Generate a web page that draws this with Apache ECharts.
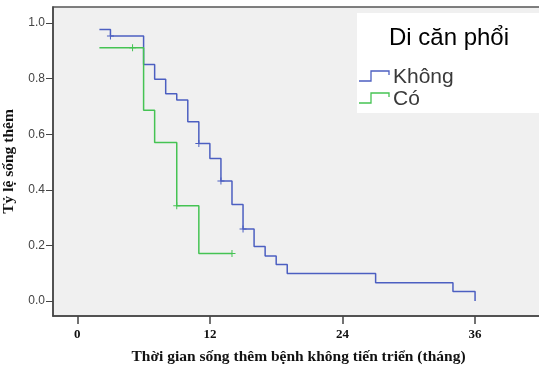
<!DOCTYPE html>
<html>
<head>
<meta charset="utf-8">
<script src="https://cdn.jsdelivr.net/npm/echarts@6/dist/echarts.min.js"></script>
<style>
  html, body { margin: 0; padding: 0; background: #ffffff; }
  #chart { width: 539px; height: 366px; }
</style>
</head>
<body>
<div id="chart"></div>
<script>
// Kaplan-Meier estimates of progression-free survival by lung metastasis
const groupNames = ['Không', 'Có'];

// "Không" (no lung metastasis): event times (months) and survival after each step
const khongTimes = [2, 3, 6, 7, 8, 9, 10, 11, 12, 13, 14, 15, 16, 17, 18, 19, 27, 34, 36];
const khongSurv  = [0.977, 0.954, 0.851, 0.798, 0.746, 0.723, 0.645, 0.567, 0.513, 0.432,
                    0.347, 0.259, 0.196, 0.162, 0.131, 0.099, 0.066, 0.034, 0.0];
// censored observations
const khongCensorTimes = [3, 11, 13, 15];
const khongCensorSurv  = [0.954, 0.567, 0.432, 0.259];

// "Có" (lung metastasis)
const coTimes = [2, 6, 7, 9, 11, 14];
const coSurv  = [0.911, 0.686, 0.570, 0.343, 0.171, 0.171];
const coCensorTimes = [5, 9, 14];
const coCensorSurv  = [0.911, 0.343, 0.171];

const xTicks = [0, 12, 24, 36];
const yTicks = [0, 0.2, 0.4, 0.6, 0.8, 1.0];

const legendTitle = 'Di căn phổi';
const xTitle = 'Thời gian sống thêm bệnh không tiến triển (tháng)';
const yTitle = 'Tỷ lệ sống thêm';

const colors = ['#4c5fc1', '#45c353'];

const pairs = (xs, ys) => xs.map((x, i) => [x, ys[i]]);

// censor mark "+"
const plusSymbol = 'path://M3,0 L4,0 L4,7 L3,7 Z M0,3 L7,3 L7,4 L0,4 Z';

const sansFont = 'Liberation Sans, Arial, sans-serif';
const serifFont = 'Liberation Serif, Times New Roman, serif';

// legend box: title, then one step-shaped glyph + label per group
const legendBox = { x: 357, y: 13, w: 182, h: 100 };
const legendRows = [77, 99];
const legendGraphics = [
  {
    type: 'rect',
    shape: { x: legendBox.x, y: legendBox.y, width: legendBox.w, height: legendBox.h },
    style: { fill: '#ffffff' },
    z: 8
  },
  {
    type: 'text',
    x: 449, y: 38,
    style: {
      text: legendTitle, font: '24px ' + sansFont, fill: '#000000',
      align: 'center', verticalAlign: 'middle'
    },
    z: 9
  }
];
groupNames.forEach((name, i) => {
  const cy = legendRows[i];
  legendGraphics.push({
    type: 'polyline',
    shape: { points: [[359, cy + 4], [371, cy + 4], [371, cy - 6], [389, cy - 6], [389, cy - 2]] },
    style: { stroke: colors[i], lineWidth: 1.3, fill: null },
    z: 9
  });
  legendGraphics.push({
    type: 'text',
    x: 393, y: cy,
    style: {
      text: name, font: '21px ' + sansFont, fill: '#3a3a3a',
      align: 'left', verticalAlign: 'middle'
    },
    z: 9
  });
});

const chart = echarts.init(document.getElementById('chart'), null, { renderer: 'canvas' });

chart.setOption({
  animation: false,
  backgroundColor: '#ffffff',
  grid: {
    left: 53, top: 7, width: 491, height: 309,
    outerBoundsMode: 'none',
    containLabel: false,
    show: true,
    backgroundColor: '#f0f0f0',
    borderColor: '#555555',
    borderWidth: 1.5
  },
  graphic: legendGraphics,
  xAxis: {
    type: 'value',
    min: -2.2, max: 42.24,
    name: xTitle,
    nameLocation: 'middle',
    nameGap: 33,
    nameTextStyle: { fontFamily: serifFont, fontWeight: 'bold', fontSize: 15.5, color: '#111111' },
    axisLine: { show: true, onZero: false, lineStyle: { color: '#444444', width: 1.5 } },
    axisTick: { show: true, customValues: xTicks, length: 8, lineStyle: { color: '#444444', width: 1.5 } },
    axisLabel: {
      customValues: xTicks, margin: 12,
      fontFamily: serifFont, fontWeight: 'bold', fontSize: 13, color: '#111111'
    },
    splitLine: { show: false }
  },
  yAxis: {
    type: 'value',
    min: -0.054, max: 1.058,
    name: yTitle,
    nameLocation: 'middle',
    nameGap: 31,
    nameTextStyle: { fontFamily: serifFont, fontWeight: 'bold', fontSize: 15.5, color: '#111111' },
    axisLine: { show: true, onZero: false, lineStyle: { color: '#444444', width: 1.5 } },
    axisTick: { show: true, customValues: yTicks, length: 7, lineStyle: { color: '#444444', width: 1 } },
    axisLabel: {
      customValues: yTicks, margin: 8,
      formatter: v => v.toFixed(1),
      fontFamily: 'Liberation Sans Narrow, Liberation Sans, Arial, sans-serif', fontSize: 12, color: '#444444'
    },
    splitLine: { show: false }
  },
  series: [
    {
      name: groupNames[0], type: 'line', step: 'end', symbol: 'none',
      lineStyle: { color: colors[0], width: 1.5 }, itemStyle: { color: colors[0] },
      data: pairs(khongTimes, khongSurv), z: 3
    },
    {
      name: groupNames[1], type: 'line', step: 'end', symbol: 'none',
      lineStyle: { color: colors[1], width: 1.5 }, itemStyle: { color: colors[1] },
      data: pairs(coTimes, coSurv), z: 3
    },
    {
      name: groupNames[0], type: 'scatter', symbol: plusSymbol, symbolSize: 7,
      itemStyle: { color: colors[0], opacity: 1 },
      data: pairs(khongCensorTimes, khongCensorSurv), z: 4
    },
    {
      name: groupNames[1], type: 'scatter', symbol: plusSymbol, symbolSize: 7,
      itemStyle: { color: colors[1], opacity: 1 },
      data: pairs(coCensorTimes, coCensorSurv), z: 4
    }
  ]
});
</script>
</body>
</html>
